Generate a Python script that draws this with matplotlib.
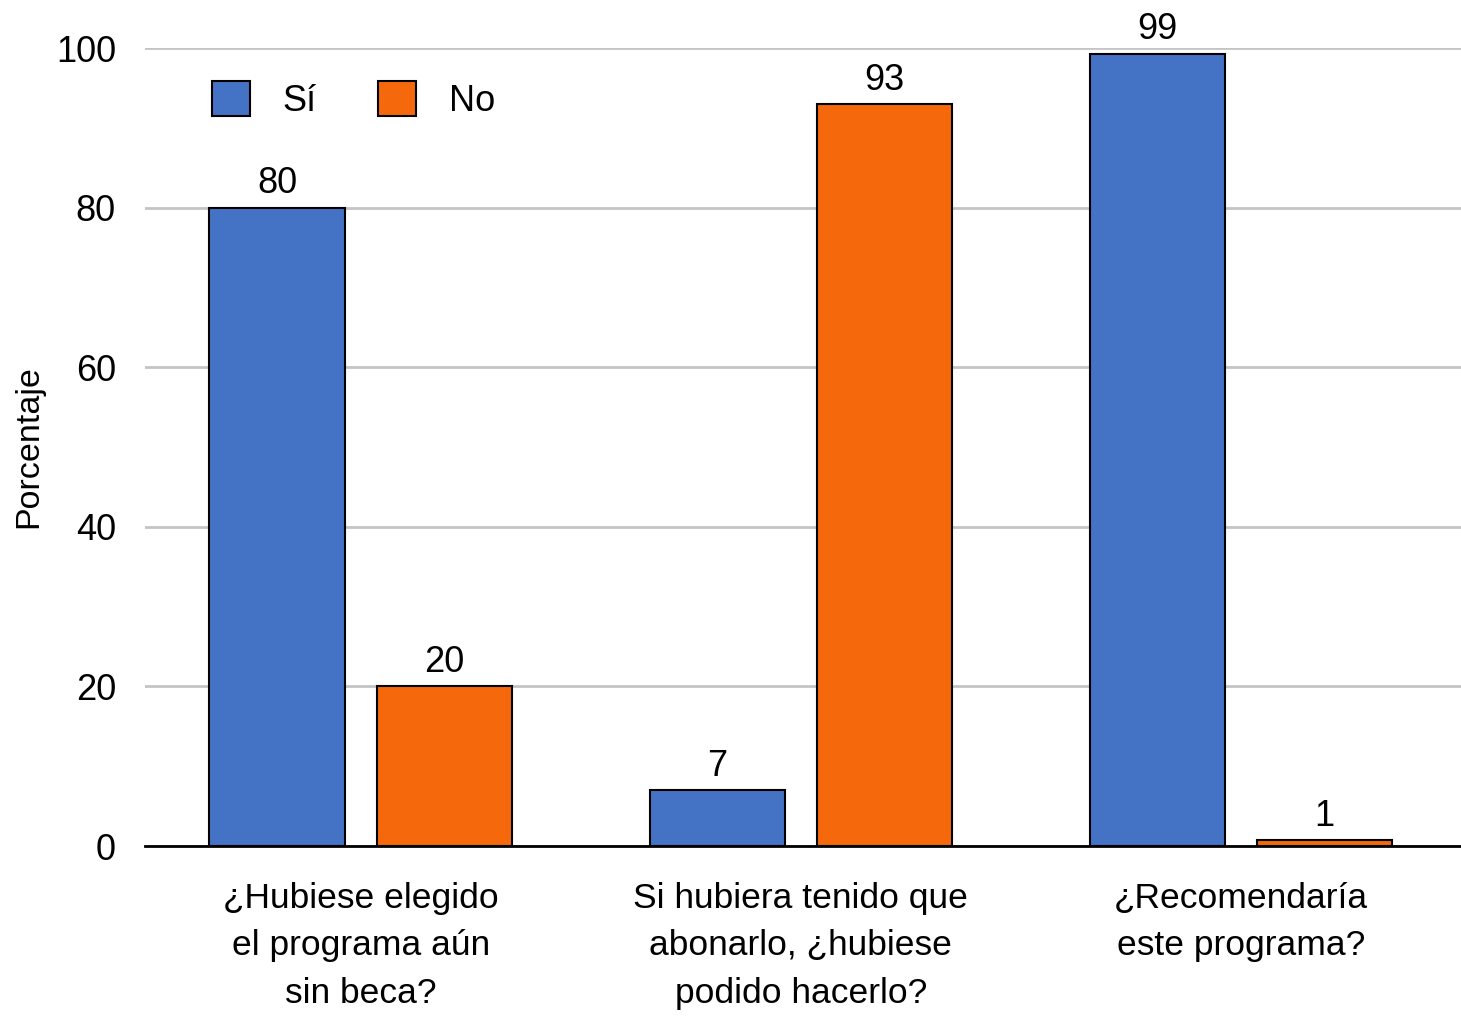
import numpy as np
import matplotlib
matplotlib.use('Agg')
import matplotlib.pyplot as plt
from matplotlib.patches import Patch

plt.rcParams['font.family'] = ['Liberation Sans', 'DejaVu Sans']

# datos
categorias = ['¿Hubiese elegido\nel programa aún\nsin beca?',
              'Si hubiera tenido que\nabonarlo, ¿hubiese\npodido hacerlo?',
              '¿Recomendaría\neste programa?']
si = [80, 7, 99.3]
no = [20, 93, 0.7]
series = ['Sí', 'No']
yticks = [0, 20, 40, 60, 80, 100]

azul = '#4472C4'
naranja = '#F5690C'

fig = plt.figure(figsize=(14.61, 10.24), dpi=100)
ax = fig.add_axes([0.0993, 0.1738, 0.9007, 0.7793])

x = np.arange(len(categorias))
w = 0.3075
off = 0.19
b1 = ax.bar(x - off, si, w, color=azul, edgecolor='black', linewidth=1.5, zorder=3)
b2 = ax.bar(x + off, no, w, color=naranja, edgecolor='black', linewidth=1.5, zorder=3)

for bars, vals in [(b1, si), (b2, no)]:
    for r, v in zip(bars, vals):
        ax.text(r.get_x() + r.get_width() / 2, v + 0.8, '%d' % round(v),
                ha='center', va='bottom', fontsize=26, clip_on=False)

ax.set_xlim(-0.49, 2.5)
ax.set_ylim(0, 100)
ax.set_yticks(yticks)
ax.set_yticklabels([str(t) for t in yticks], fontsize=26)
ax.set_xticks(x)
ax.set_xticklabels(categorias, fontsize=25.5, linespacing=1.55)
ax.tick_params(axis='both', length=0)
ax.tick_params(axis='y', pad=21)
ax.tick_params(axis='x', pad=26)

ax.yaxis.grid(True, color='#c4c4c4', linewidth=2, zorder=0)
ax.set_axisbelow(True)
for s in ['left', 'right', 'top']:
    ax.spines[s].set_visible(False)
ax.spines['bottom'].set_color('black')
ax.spines['bottom'].set_linewidth(2)
ax.spines['bottom'].set_zorder(4)

ax.set_ylabel('Porcentaje', fontsize=24.5)
ax.yaxis.set_label_coords(-0.077, 0.5)

handles = [Patch(facecolor=azul, edgecolor='black', linewidth=1.5),
           Patch(facecolor=naranja, edgecolor='black', linewidth=1.5)]
ax.legend(handles, series, loc='center left', bbox_to_anchor=(0.051, 0.935), ncol=2,
          frameon=False, fontsize=26, handlelength=1.05, handleheight=1.1,
          handletextpad=0.9, columnspacing=1.7, borderpad=0, borderaxespad=0)

fig.savefig('out.png', dpi=100)
